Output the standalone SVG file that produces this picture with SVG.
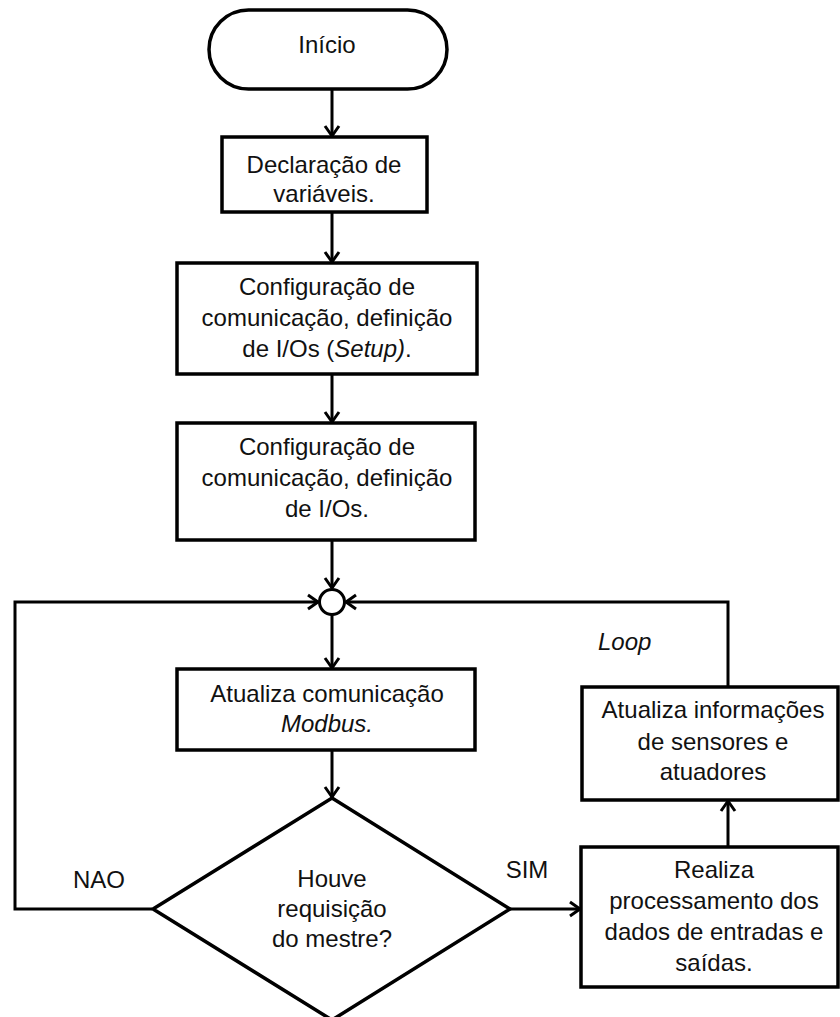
<svg xmlns="http://www.w3.org/2000/svg" width="840" height="1017" viewBox="0 0 840 1017">
<defs>
<style>
.box{fill:#fff;stroke:#000;stroke-width:3.5}
.ln{fill:none;stroke:#000;stroke-width:3;marker-end:url(#arr)}
.pl{fill:none;stroke:#000;stroke-width:3}
text{font-family:"Liberation Sans",Arial,sans-serif;font-size:24px;fill:#111;text-anchor:middle}
.it{font-style:italic}
</style>
<marker id="arr" markerUnits="userSpaceOnUse" markerWidth="20" markerHeight="20" refX="12" refY="10" orient="auto" viewBox="0 0 20 20">
<path d="M2,3 L12,10 L2,17" fill="none" stroke="#000" stroke-width="3"/>
</marker>
</defs>
<rect width="840" height="1017" fill="#fff"/>
<g id="connectors">
<line class="ln" x1="332" y1="89" x2="332" y2="136"/>
<line class="ln" x1="332" y1="212" x2="332" y2="262"/>
<line class="ln" x1="332" y1="374" x2="332" y2="422"/>
<line class="ln" x1="332" y1="540" x2="332" y2="588"/>
<line class="ln" x1="332" y1="615" x2="332" y2="668"/>
<line class="ln" x1="332" y1="750" x2="332" y2="797"/>
<polyline class="ln" points="152,909 15,909 15,602 318,602"/>
<polyline class="ln" points="728,687 728,602 346,602"/>
<line class="ln" x1="510" y1="909" x2="580" y2="909"/>
<line class="ln" x1="728" y1="847" x2="728" y2="801"/>
<text x="99" y="888">NAO</text>
<text x="527" y="878">SIM</text>
<text class="it" x="598" y="650" style="text-anchor:start">Loop</text>
</g>
<g id="inicio">
<rect class="box" x="209" y="10" width="238" height="79" rx="39.5"/>
<text x="327" y="53">Início</text>
</g>
<g id="declaracao">
<rect class="box" x="222" y="137" width="205" height="75"/>
<text x="324" y="173">Declaração de</text>
<text x="324" y="202">variáveis.</text>
</g>
<g id="setup">
<rect class="box" x="177" y="263" width="300" height="111"/>
<text x="327" y="295">Configuração de</text>
<text x="327" y="326">comunicação, definição</text>
<text x="327" y="357">de I/Os (<tspan class="it">Setup)</tspan>.</text>
</g>
<g id="config">
<rect class="box" x="177" y="423" width="298" height="117"/>
<text x="327" y="455">Configuração de</text>
<text x="327" y="486">comunicação, definição</text>
<text x="327" y="517">de I/Os.</text>
</g>
<g id="juncao">
<circle cx="332" cy="602" r="12.5" fill="#fff" stroke="#000" stroke-width="3"/>
</g>
<g id="modbus">
<rect class="box" x="177" y="669" width="298" height="81"/>
<text x="327" y="702">Atualiza comunicação</text>
<text class="it" x="327" y="732">Modbus.</text>
</g>
<g id="decisao">
<polygon class="box" points="332,798 510,909 332,1020 153,909"/>
<text x="332" y="887">Houve</text>
<text x="332" y="917">requisição</text>
<text x="332" y="947">do mestre?</text>
</g>
<g id="atualiza">
<rect class="box" x="582" y="687" width="256" height="113"/>
<text x="713" y="718">Atualiza informações</text>
<text x="713" y="750">de sensores e</text>
<text x="713" y="780">atuadores</text>
</g>
<g id="realiza">
<rect class="box" x="581" y="847" width="257" height="140"/>
<text x="714" y="878">Realiza</text>
<text x="714" y="909">processamento dos</text>
<text x="714" y="940">dados de entradas e</text>
<text x="714" y="971">saídas.</text>
</g>
</svg>
